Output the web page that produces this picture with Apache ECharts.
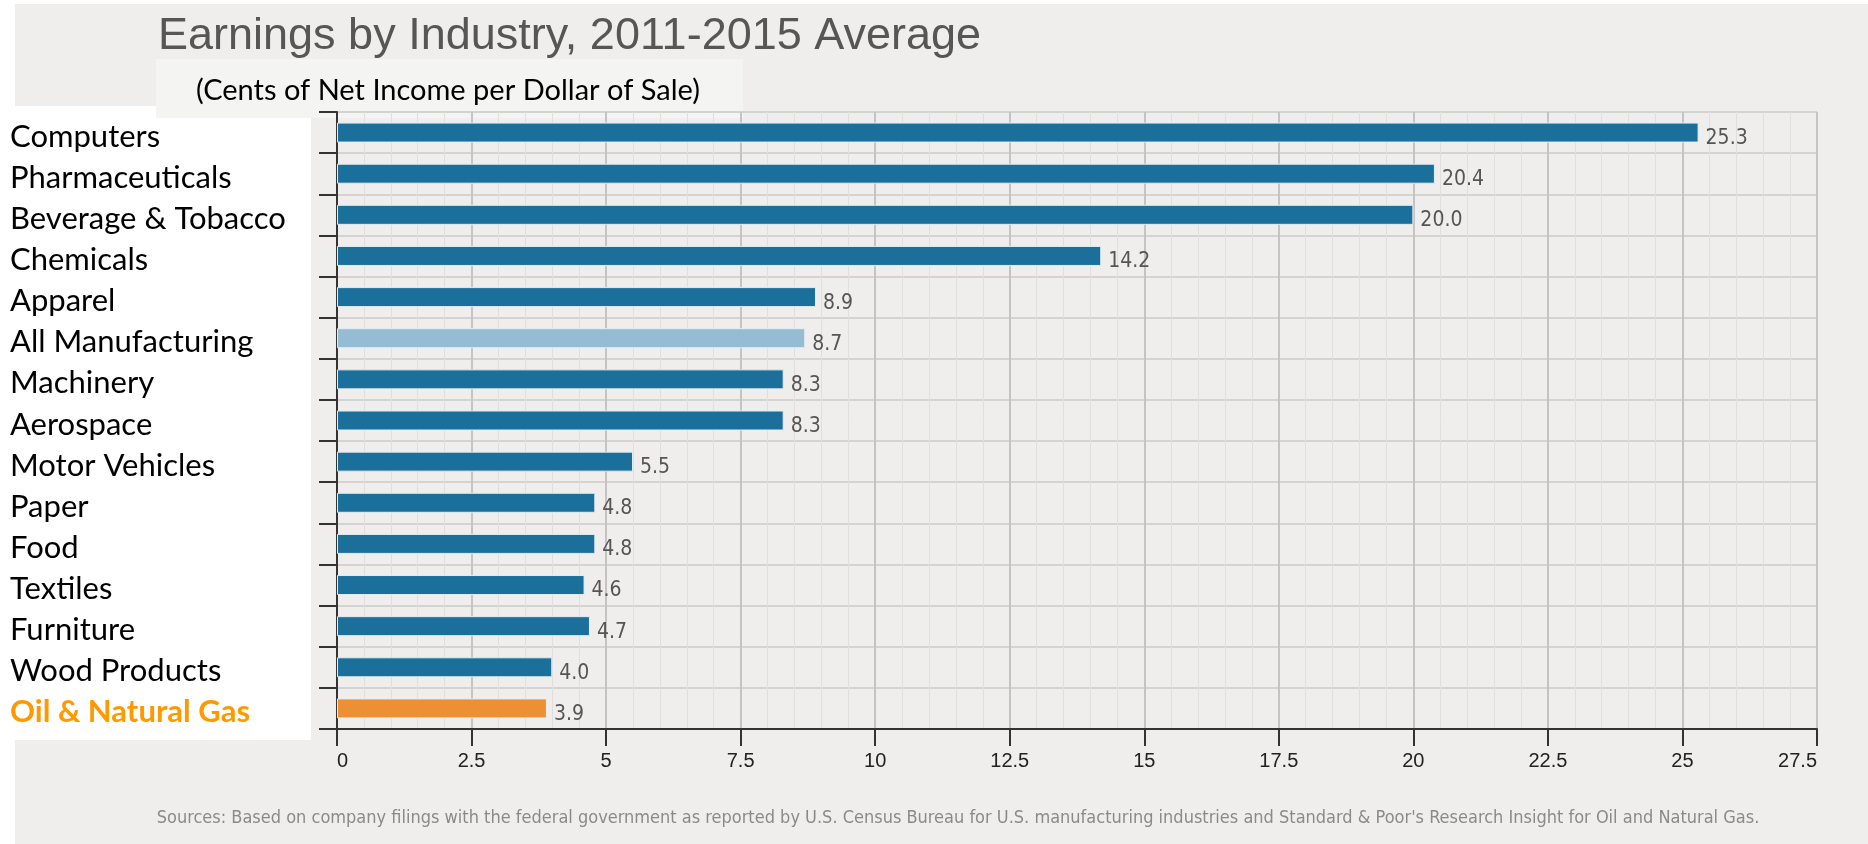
<!DOCTYPE html>
<html>
<head>
<meta charset="utf-8">
<script src="https://cdn.jsdelivr.net/npm/echarts@6/dist/echarts.min.js"></script>
<style>
html,body{margin:0;padding:0;background:#fff;}
#chart{width:1868px;height:844px;}
</style>
</head>
<body>
<div id="chart"></div>
<script>
const categories = ['Computers','Pharmaceuticals','Beverage & Tobacco','Chemicals','Apparel','All Manufacturing','Machinery','Aerospace','Motor Vehicles','Paper','Food','Textiles','Furniture','Wood Products','Oil & Natural Gas'];
const values = [25.3, 20.4, 20.0, 14.2, 8.9, 8.7, 8.3, 8.3, 5.5, 4.8, 4.8, 4.6, 4.7, 4.0, 3.9];
const barKinds = ['ind','ind','ind','ind','ind','avg','ind','ind','ind','ind','ind','ind','ind','ind','oil'];
const xMin = 0, xMax = 27.5, xStep = 2.5;
const titleText = 'Earnings by Industry, 2011-2015 Average';
const subtitleText = '(Cents of Net Income per Dollar of Sale)';
const sourceText = "Sources: Based on company filings with the federal government as reported by U.S. Census Bureau for U.S. manufacturing industries and Standard & Poor's Research Insight for Oil and Natural Gas.";

const kindColor = {ind:'#1b6f9b', avg:'#94bdd4', oil:'#ec8f35'};
const chart = echarts.init(document.getElementById('chart'));
const data = values.map((v,i)=>({value:v, itemStyle:{color:kindColor[barKinds[i]]}}));

chart.setOption({
  backgroundColor:'#ffffff',
  animation:false,
  graphic:{elements:[
    {type:'rect', z:-100, shape:{x:15,y:4,width:1853,height:840}, style:{fill:'#efeeed'}},
    {type:'rect', z:-90, shape:{x:0,y:106,width:311,height:634}, style:{fill:'#ffffff'}},
    {type:'rect', z:-80, shape:{x:156,y:59,width:587,height:59}, style:{fill:'#f4f4f3'}},
    {type:'text', z:10, x:158, y:37, style:{text:titleText, font:'45px "Liberation Sans", Arial, sans-serif', fill:'#565656', textVerticalAlign:'middle', textAlign:'left'}},
    {type:'text', z:10, x:448, y:91, style:{text:subtitleText, font:'29px Lato, "Open Sans", sans-serif', fill:'#000', textVerticalAlign:'middle', textAlign:'center'}},
    {type:'text', z:10, x:958, y:818, style:{text:sourceText, font:'18px "DejaVu Sans Condensed", "DejaVu Sans", sans-serif', fill:'#8a8a8a', textVerticalAlign:'middle', textAlign:'center'}}
  ]},
  grid:{left:337, right:51, top:112, bottom:115, containLabel:false},
  xAxis:{
    type:'value', min:xMin, max:xMax, interval:xStep,
    axisLine:{show:true, lineStyle:{color:'#333', width:2}},
    axisTick:{show:true, length:17, lineStyle:{color:'#333', width:2}},
    axisLabel:{fontFamily:'"Liberation Sans", Arial, sans-serif', fontSize:20, color:'#222', margin:22, alignMinLabel:'left', alignMaxLabel:'right'},
    splitLine:{show:true, lineStyle:{color:'#c4c4c4', width:2}},
    minorTick:{show:false, splitNumber:5},
    minorSplitLine:{show:true, lineStyle:{color:'#dfdfdd', width:1}}
  },
  yAxis:{
    type:'category', data:categories, inverse:true,
    axisLine:{show:true, lineStyle:{color:'#333', width:2}},
    axisTick:{show:true, length:18, alignWithLabel:false, lineStyle:{color:'#333', width:2}},
    axisLabel:{
      align:'left', margin:327, fontFamily:'Lato, "Open Sans", sans-serif', fontSize:31, color:'#000',
      padding:[8,0,0,0],
      formatter:(v)=> v==='Oil & Natural Gas' ? '{oil|'+v+'}' : v,
      rich:{oil:{color:'#ff9900', fontWeight:'bold', fontFamily:'Lato, "Open Sans", sans-serif', fontSize:31}}
    },
    splitLine:{show:true, lineStyle:{color:'#d3d3d1', width:2}}
  },
  series:[{
    type:'bar', data:data, barWidth:20,
    itemStyle:{borderColor:'#e3edf2', borderWidth:1},
    label:{show:true, position:'right', distance:7, offset:[0,6], color:'#555', fontFamily:'"DejaVu Sans Condensed", "DejaVu Sans", sans-serif', fontSize:21,
      formatter:(p)=>p.value.toFixed(1)}
  }]
});
</script>
</body>
</html>
